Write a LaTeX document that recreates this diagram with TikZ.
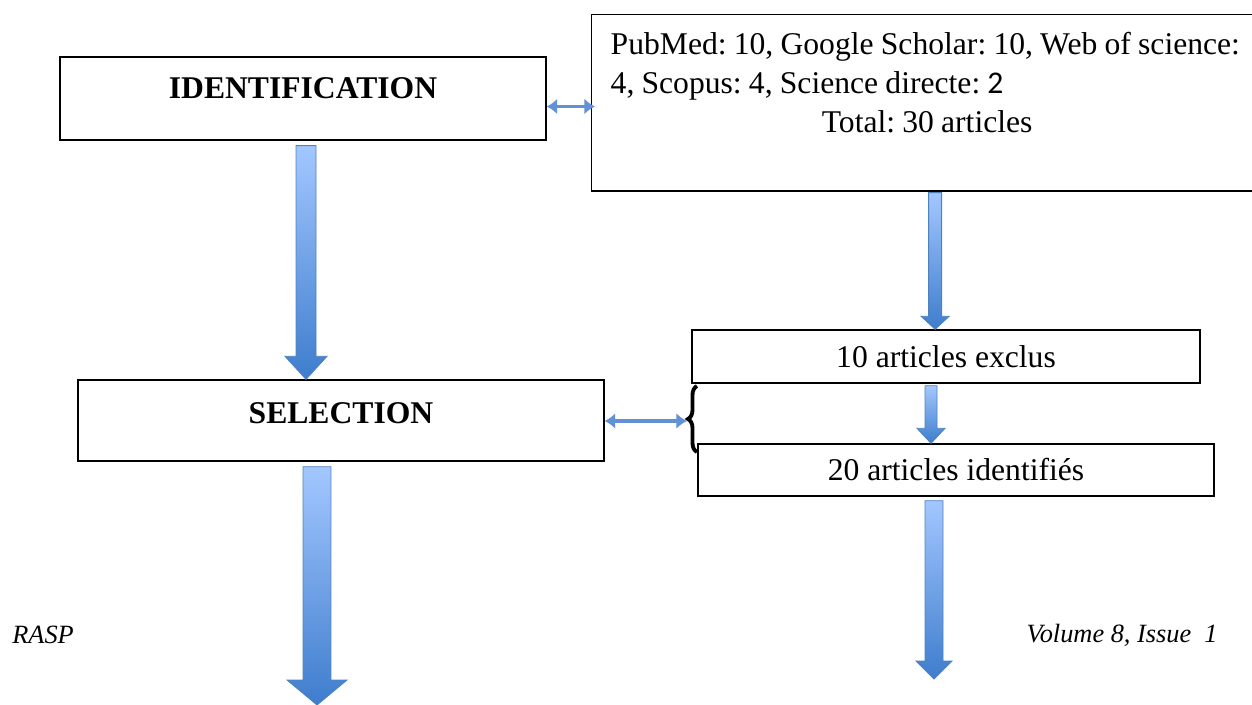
\documentclass[tikz,border=0pt]{standalone}
\usepackage{fontspec}
\setmainfont{Liberation Serif}
\newfontfamily\calfont{Carlito}
\usetikzlibrary{calc,arrows.meta,decorations.pathreplacing}

\definecolor{arrtop}{RGB}{163,199,255}
\definecolor{arrbot}{RGB}{62,125,205}
\definecolor{arredge}{RGB}{79,129,189}
\definecolor{dblue}{RGB}{98,145,215}

% vertical block arrow: start, tip, shaft half width, head half width, head length
\newcommand{\blockarrow}[5]{%
  \shadedraw[bigarrow] let \p1=(#1), \p2=(#2) in
    (\x1-#3,\y1) -- (\x1+#3,\y1) -- (\x1+#3,\y2+#5) -- (\x1+#4,\y2+#5)
    -- (\x1,\y2) -- (\x1-#4,\y2+#5) -- (\x1-#3,\y2+#5) -- cycle;}

\begin{document}
\begin{tikzpicture}
  [x=0.02cm,y=-0.02cm,
   every node/.style={font=\fontsize{18pt}{22pt}\selectfont\frenchspacing},
   box/.style={draw,line width=0.8pt,inner sep=0pt},
   bigarrow/.style={top color=arrtop,bottom color=arrbot,draw=arredge,line width=0.5pt},
   dblarrow/.style={dblue,line width=2.2pt,{Latex[length=6pt,width=9pt]}-{Latex[length=6pt,width=9pt]}},
   foot/.style={font=\fontsize{15pt}{18pt}\selectfont\itshape,inner sep=0pt}]
  \useasboundingbox (0,0) rectangle (1252,705);

  \node[box,minimum width=9.72cm,minimum height=1.66cm,text depth=0.4cm] (ident) at (303,98.5) {\textbf{IDENTIFICATION}};
  \node[box,minimum width=10.52cm,minimum height=1.62cm,text depth=0.3cm] (selection) at (341,420.5) {\textbf{SELECTION}};
  \node[box,anchor=north west,text width=12.66cm,align=left,inner xsep=0.38cm,inner ysep=0.36cm,text depth=2.36cm] (src) at (591,14)
    {\spaceskip=4.1pt\relax
     \mbox{PubMed: 10, Google Scholar: 10, Web of science:}\\ 4, Scopus: 4, Science directe: {\calfont 2}\\ \makebox[\linewidth]{Total: 30 articles}};
  \node[box,minimum width=10.16cm,minimum height=1.06cm] (exclus) at (946,356.5) {10 articles exclus};
  \node[box,minimum width=10.32cm,minimum height=1.04cm] (identif) at (956,470) {20 articles identifiés};

  \node[foot,anchor=west] (rasp) at (12,635) {RASP};
  \node[foot,anchor=east] (vol) at (1218,635) {Volume 8, Issue\ \ 1};

  \coordinate (a1) at ($(ident.south)+(3,5)$);
  \coordinate (a2) at ($(selection.south)+(-24,5)$);
  \coordinate (end1) at (317,705);
  \coordinate (b1) at ($(src.south)+(8,1)$);
  \coordinate (b2) at ($(exclus.south)+(-15,2)$);
  \coordinate (b3) at ($(identif.south)+(-22,4)$);
  \coordinate (end2) at (934,679);
  \coordinate (bt) at (687,421);

  \foreach \from/\to/\s/\h/\l in {a1/selection.north/0.2cm/0.42cm/0.46cm,
      a2/end1/0.28cm/0.6cm/0.5cm, b1/exclus.north/0.13cm/0.28cm/0.26cm,
      b2/identif.north/0.12cm/0.28cm/0.3cm, b3/end2/0.18cm/0.36cm/0.36cm}
    \blockarrow{\from}{\to}{\s}{\h}{\l};

  \draw[dblarrow] ($(ident.east)+(0,8)$) -- ($(ident.east -| src.west)+(4,8)$);
  \draw[dblarrow] (selection.east |- bt) -- (bt);
  \draw[line width=2.2pt,decorate,decoration={brace,amplitude=0.18cm}] ($(bt)+(10,31)$) -- ($(bt)+(10,-35)$);

\end{tikzpicture}
\end{document}
